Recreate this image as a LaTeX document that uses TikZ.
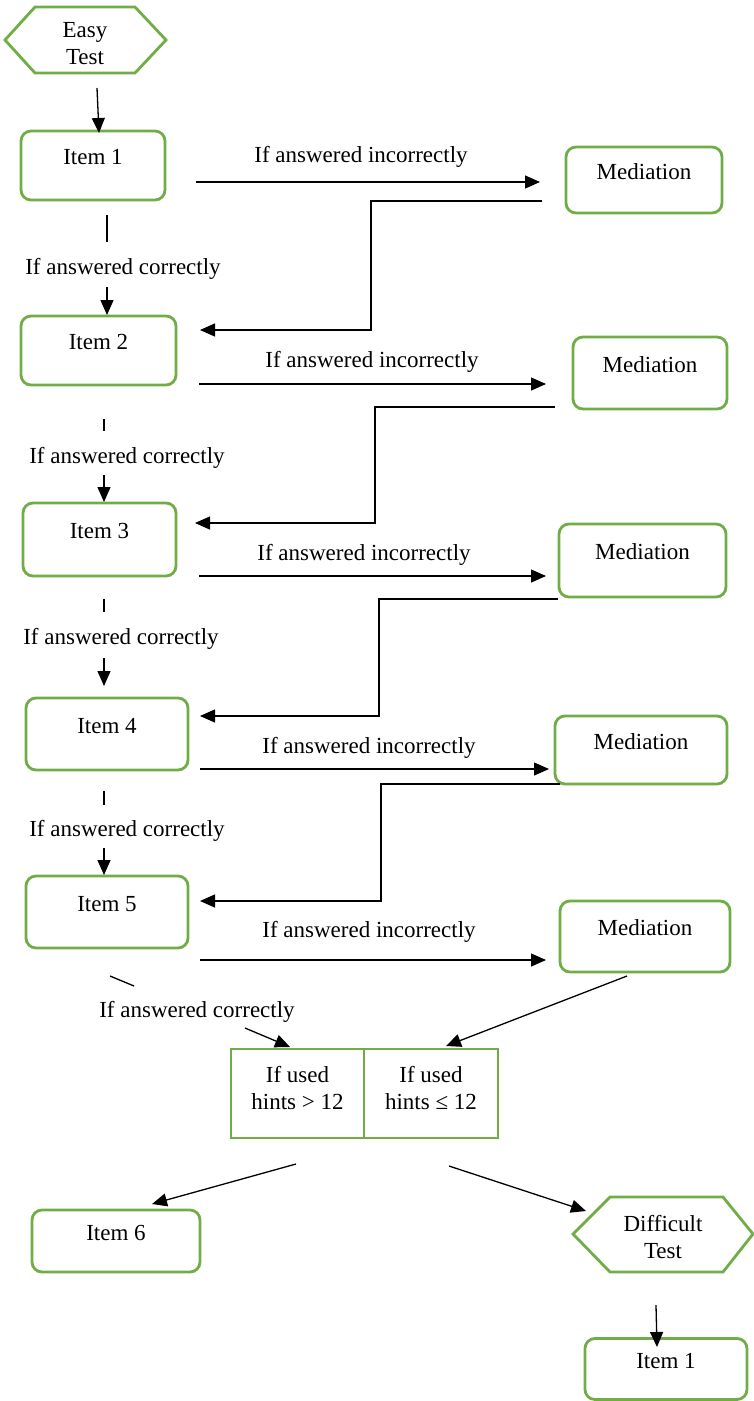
\documentclass[tikz,border=0pt]{standalone}
\usepackage{fontspec}
\setmainfont{Liberation Serif}
\usetikzlibrary{arrows.meta}
\definecolor{boxgreen}{RGB}{112,173,71}
\tikzset{
  every node/.style={font=\fontsize{23}{27}\selectfont},
  itembox/.style={draw=boxgreen, line width=2.8pt, rounded corners=10pt, inner sep=0pt,
                  text height=16pt, text depth=18pt},
  splitbox/.style={draw=boxgreen, line width=2.8pt, inner sep=0pt, align=center},
  hexline/.style={draw=boxgreen, line width=2.8pt, line join=miter},
  lbl/.style={inner sep=0pt, text height=16pt, text depth=5pt},
  arr/.style={draw=black, line width=1.3pt, -{Triangle[length=15pt,width=13pt]}},
  ln/.style={draw=black, line width=1.3pt},
}
\begin{document}
\begin{tikzpicture}[x=1pt,y=-1pt]
\useasboundingbox (0,0) rectangle (754,1401);
% hexagons
\draw[hexline] (5,40) -- (35,7) -- (135,7) -- (166,40) -- (135,73) -- (35,73) -- cycle;
\node[align=center, inner sep=0pt] (easy) at (85,44) {Easy\\Test};
\draw[hexline] (573,1234) -- (610,1197) -- (723,1197) -- (753,1234) -- (723,1272) -- (610,1272) -- cycle;
\node[align=center, inner sep=0pt] (diff) at (663,1237) {Difficult\\Test};
% item boxes
\node[itembox, minimum width=144pt, minimum height=69pt] (item1) at (93,165.5) {Item 1};
\node[itembox, minimum width=156pt, minimum height=66pt] (med1) at (644,180) {Mediation};
\node[itembox, minimum width=155pt, minimum height=69pt] (item2) at (98.5,350.5) {Item 2};
\node[itembox, minimum width=154pt, minimum height=72pt] (med2) at (650,373) {Mediation};
\node[itembox, minimum width=153pt, minimum height=73pt] (item3) at (99.5,539.5) {Item 3};
\node[itembox, minimum width=167pt, minimum height=73pt] (med3) at (642.5,560.5) {Mediation};
\node[itembox, minimum width=162pt, minimum height=72pt] (item4) at (107,734) {Item 4};
\node[itembox, minimum width=172pt, minimum height=68pt] (med4) at (641,750) {Mediation};
\node[itembox, minimum width=162pt, minimum height=72pt] (item5) at (107,912) {Item 5};
\node[itembox, minimum width=170pt, minimum height=71pt] (med5) at (645,936.5) {Mediation};
\node[itembox, minimum width=168pt, minimum height=62pt] (item6) at (116,1241) {Item 6};
\node[itembox, minimum width=162pt, minimum height=61pt] (item1b) at (666,1369) {Item 1};
% split box
\node[splitbox, minimum width=133pt, minimum height=89pt, text depth=12pt] (hgt) at (297.5,1093.5) {If used\\hints > 12};
\node[splitbox, minimum width=134pt, minimum height=89pt, text depth=12pt] (hle) at (431,1093.5) {If used\\hints ≤ 12};
% coordinates for connector ends
\coordinate (e1) at (97,88);   \coordinate (e2) at (99,133);
\coordinate (i1a) at (196,182); \coordinate (i1b) at (540,182);
\coordinate (i2a) at (199,384); \coordinate (i2b) at (546,384);
\coordinate (i3a) at (199,576); \coordinate (i3b) at (546,576);
\coordinate (i4a) at (200,769); \coordinate (i4b) at (549,769);
\coordinate (i5a) at (200,960); \coordinate (i5b) at (546,960);
\coordinate (r1a) at (542,201); \coordinate (r1b) at (371,201); \coordinate (r1c) at (371,330); \coordinate (r1d) at (200,330);
\coordinate (r2a) at (555,407); \coordinate (r2b) at (375,407); \coordinate (r2c) at (375,523); \coordinate (r2d) at (195,523);
\coordinate (r3a) at (558,599); \coordinate (r3b) at (379,599); \coordinate (r3c) at (379,716); \coordinate (r3d) at (200,716);
\coordinate (r4a) at (560,784); \coordinate (r4b) at (381,784); \coordinate (r4c) at (381,901); \coordinate (r4d) at (200,901);
\coordinate (c1a) at (107,215); \coordinate (c1b) at (107,242); \coordinate (c1c) at (107,287); \coordinate (c1d) at (107,315);
\coordinate (c2a) at (104,419); \coordinate (c2b) at (104,431); \coordinate (c2c) at (104,475); \coordinate (c2d) at (104,502);
\coordinate (c3a) at (104,599); \coordinate (c3b) at (104,612); \coordinate (c3c) at (104,658); \coordinate (c3d) at (104,686);
\coordinate (c4a) at (104,791); \coordinate (c4b) at (104,805); \coordinate (c4c) at (104,848); \coordinate (c4d) at (104,875);
\coordinate (c5a) at (110,976); \coordinate (c5b) at (134,986); \coordinate (c5c) at (245,1028); \coordinate (c5d) at (290,1047);
\coordinate (m5a) at (627,976); \coordinate (m5b) at (446,1046);
\coordinate (s1a) at (296,1164); \coordinate (s1b) at (152,1204);
\coordinate (s2a) at (449,1166); \coordinate (s2b) at (586,1211);
\coordinate (d1) at (656,1305); \coordinate (d2) at (657,1347);
% labels
\node[lbl] (li1) at (361,157) {If answered incorrectly};
\node[lbl] (li2) at (372,362) {If answered incorrectly};
\node[lbl] (li3) at (364,555) {If answered incorrectly};
\node[lbl] (li4) at (369,748) {If answered incorrectly};
\node[lbl] (li5) at (369,932) {If answered incorrectly};
\node[lbl] (lc1) at (123,269) {If answered correctly};
\node[lbl] (lc2) at (127,458) {If answered correctly};
\node[lbl] (lc3) at (121,639) {If answered correctly};
\node[lbl] (lc4) at (127,831) {If answered correctly};
\node[lbl] (lc5) at (197,1012) {If answered correctly};
% connectors
\draw[arr] (e1) -- (e2);
\draw[arr] (i1a) -- (i1b);
\draw[arr] (i2a) -- (i2b);
\draw[arr] (i3a) -- (i3b);
\draw[arr] (i4a) -- (i4b);
\draw[arr] (i5a) -- (i5b);
\draw[arr] (r1a) -- (r1b) -- (r1c) -- (r1d);
\draw[arr] (r2a) -- (r2b) -- (r2c) -- (r2d);
\draw[arr] (r3a) -- (r3b) -- (r3c) -- (r3d);
\draw[arr] (r4a) -- (r4b) -- (r4c) -- (r4d);
\draw[ln] (c1a) -- (c1b); \draw[arr] (c1c) -- (c1d);
\draw[ln] (c2a) -- (c2b); \draw[arr] (c2c) -- (c2d);
\draw[ln] (c3a) -- (c3b); \draw[arr] (c3c) -- (c3d);
\draw[ln] (c4a) -- (c4b); \draw[arr] (c4c) -- (c4d);
\draw[ln] (c5a) -- (c5b); \draw[arr] (c5c) -- (c5d);
\draw[arr] (m5a) -- (m5b);
\draw[arr] (s1a) -- (s1b);
\draw[arr] (s2a) -- (s2b);
\draw[arr] (d1) -- (d2);
\end{tikzpicture}
\end{document}
